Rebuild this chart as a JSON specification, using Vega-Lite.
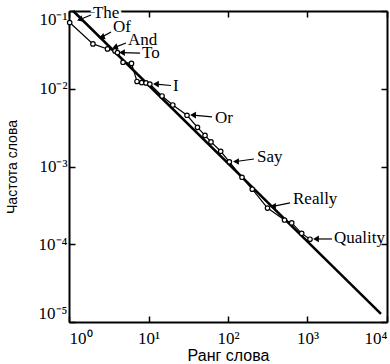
{
  "$schema": "https://vega.github.io/schema/vega-lite/v6.json",
  "width": 318,
  "height": 311,
  "autosize": {"type": "none"},
  "padding": {"left": 69, "top": 11, "right": 3, "bottom": 42},
  "background": "white",
  "config": {
    "view": {"stroke": null},
    "axis": {
      "domainColor": "black",
      "domainWidth": 2,
      "tickColor": "black",
      "tickWidth": 1.5,
      "tickSize": -6,
      "grid": false,
      "labelFont": "Liberation Serif",
      "labelFontSize": 17,
      "labelColor": "black",
      "titleFont": "Liberation Sans",
      "titleFontWeight": "normal",
      "titleColor": "black"
    }
  },
  "datasets": {
    "fit": [
      {"rank": 1.13, "freq": 0.1},
      {"rank": 8400, "freq": 0.0000127}
    ],
    "zipf": [
      {"rank": 1.02, "freq": 0.0711},
      {"rank": 2.0, "freq": 0.0377},
      {"rank": 3.05, "freq": 0.0325},
      {"rank": 3.79, "freq": 0.0306},
      {"rank": 4.07, "freq": 0.0292},
      {"rank": 4.78, "freq": 0.0219},
      {"rank": 6.11, "freq": 0.0212},
      {"rank": 7.17, "freq": 0.0124},
      {"rank": 8.21, "freq": 0.012},
      {"rank": 9.3, "freq": 0.0119},
      {"rank": 10.4, "freq": 0.0115},
      {"rank": 14.8, "freq": 0.00807},
      {"rank": 20.2, "freq": 0.00618},
      {"rank": 30.5, "freq": 0.00456},
      {"rank": 41.3, "freq": 0.00319},
      {"rank": 51.4, "freq": 0.00251},
      {"rank": 61.1, "freq": 0.00207},
      {"rank": 80.9, "freq": 0.00157},
      {"rank": 104, "freq": 0.00115},
      {"rank": 150, "freq": 0.000727},
      {"rank": 202, "freq": 0.00051},
      {"rank": 314, "freq": 0.000292},
      {"rank": 514, "freq": 0.000205},
      {"rank": 633, "freq": 0.000188},
      {"rank": 845, "freq": 0.000138},
      {"rank": 1075, "freq": 0.000116}
    ],
    "notes": [
      {"word": "The", "tx": 2.0, "ty": 0.0942, "ax": 1.89, "ay": 0.0888, "hx": 1.37, "hy": 0.0778, "dir": "diag"},
      {"word": "Of", "tx": 3.58, "ty": 0.0623, "ax": 3.38, "ay": 0.0537, "hx": 2.58, "hy": 0.0461, "dir": "diag"},
      {"word": "And", "tx": 5.52, "ty": 0.0418, "ax": 5.21, "ay": 0.0388, "hx": 3.77, "hy": 0.034, "dir": "diag"},
      {"word": "To", "tx": 8.28, "ty": 0.0286, "ax": 7.82, "ay": 0.0288, "hx": 4.64, "hy": 0.0292, "dir": "flat"},
      {"word": "I", "tx": 20.3, "ty": 0.01084, "ax": 19.2, "ay": 0.01101, "hx": 12.4, "hy": 0.0115, "dir": "flat"},
      {"word": "Or", "tx": 68.6, "ty": 0.00421, "ax": 62.9, "ay": 0.00434, "hx": 36.3, "hy": 0.00459, "dir": "flat"},
      {"word": "Say", "tx": 232, "ty": 0.001324, "ax": 212, "ay": 0.001248, "hx": 126, "hy": 0.001159, "dir": "flat"},
      {"word": "Really", "tx": 657, "ty": 0.000382, "ax": 603, "ay": 0.00034, "hx": 368, "hy": 0.000307, "dir": "flat"},
      {"word": "Quality", "tx": 2153, "ty": 0.0001202, "ax": 2032, "ay": 0.0001169, "hx": 1279, "hy": 0.0001169, "dir": "flat"}
    ]
  },
  "resolve": {"axis": {"x": "independent", "y": "independent"}},
  "layer": [
    {
      "data": {"name": "fit"},
      "mark": {"type": "line", "color": "black", "strokeWidth": 2.5},
      "encoding": {
        "x": {
          "field": "rank", "type": "quantitative",
          "scale": {"type": "log", "domain": [1, 10000], "nice": false},
          "axis": {
            "orient": "bottom",
            "values": [1, 10, 100, 1000, 10000],
            "labelExpr": "'10' + ['⁰','¹','²','³','⁴'][round(log(datum.value)/LN10)]",
            "labelFlush": true,
            "labelPadding": 14,
            "title": "Ранг слова",
            "titleFontSize": 16,
            "titlePadding": 1
          }
        },
        "y": {
          "field": "freq", "type": "quantitative",
          "scale": {"type": "log", "domain": [0.00001, 0.1], "nice": false},
          "axis": {
            "orient": "left",
            "values": [0.00001, 0.0001, 0.001, 0.01, 0.1],
            "labelExpr": "'10' + ['⁻⁵','⁻⁴','⁻³','⁻²','⁻¹'][round(log(datum.value)/LN10)+5]",
            "labelFlush": true,
            "labelPadding": 8,
            "title": "Частота слова",
            "titleFontSize": 14,
            "titlePadding": 19
          }
        }
      }
    },
    {
      "data": {"name": "fit"},
      "mark": {"type": "line", "opacity": 0},
      "encoding": {
        "x": {
          "field": "rank", "type": "quantitative",
          "axis": {"orient": "top", "values": [1, 10, 100, 1000, 10000], "labels": false, "title": null}
        },
        "y": {
          "field": "freq", "type": "quantitative",
          "axis": {"orient": "right", "values": [0.00001, 0.0001, 0.001, 0.01, 0.1], "labels": false, "title": null}
        }
      }
    },
    {
      "data": {"name": "zipf"},
      "mark": {"type": "line", "color": "black", "strokeWidth": 1.2},
      "encoding": {
        "x": {"field": "rank", "type": "quantitative", "axis": null},
        "y": {"field": "freq", "type": "quantitative", "axis": null}
      }
    },
    {
      "data": {"name": "zipf"},
      "mark": {"type": "circle", "fill": "white", "fillOpacity": 1, "stroke": "black", "strokeWidth": 1.2, "size": 20, "opacity": 1},
      "encoding": {
        "x": {"field": "rank", "type": "quantitative", "axis": null},
        "y": {"field": "freq", "type": "quantitative", "axis": null}
      }
    },
    {
      "data": {"name": "notes"},
      "mark": {"type": "rule", "color": "black", "strokeWidth": 1.2},
      "encoding": {
        "x": {"field": "ax", "type": "quantitative", "axis": null},
        "y": {"field": "ay", "type": "quantitative", "axis": null},
        "x2": {"field": "hx"},
        "y2": {"field": "hy"}
      }
    },
    {
      "data": {"name": "notes"},
      "transform": [{"filter": "datum.dir == 'diag'"}],
      "mark": {"type": "point", "shape": "triangle-left", "filled": true, "color": "black", "size": 45, "opacity": 1, "angle": 340},
      "encoding": {
        "x": {"field": "hx", "type": "quantitative", "axis": null},
        "y": {"field": "hy", "type": "quantitative", "axis": null}
      }
    },
    {
      "data": {"name": "notes"},
      "transform": [{"filter": "datum.dir == 'flat'"}],
      "mark": {"type": "point", "shape": "triangle-left", "filled": true, "color": "black", "size": 45, "opacity": 1},
      "encoding": {
        "x": {"field": "hx", "type": "quantitative", "axis": null},
        "y": {"field": "hy", "type": "quantitative", "axis": null}
      }
    },
    {
      "data": {"name": "notes"},
      "transform": [{"filter": "datum.word == 'The'"}],
      "mark": {"type": "text", "align": "left", "baseline": "middle", "font": "Liberation Serif", "fontSize": 17, "fill": "white", "stroke": "white", "strokeWidth": 5},
      "encoding": {
        "x": {"field": "tx", "type": "quantitative", "axis": null},
        "y": {"field": "ty", "type": "quantitative", "axis": null},
        "text": {"field": "word"}
      }
    },
    {
      "data": {"name": "notes"},
      "mark": {"type": "text", "align": "left", "baseline": "middle", "font": "Liberation Serif", "fontSize": 17, "color": "black"},
      "encoding": {
        "x": {"field": "tx", "type": "quantitative", "axis": null},
        "y": {"field": "ty", "type": "quantitative", "axis": null},
        "text": {"field": "word"}
      }
    }
  ]
}
